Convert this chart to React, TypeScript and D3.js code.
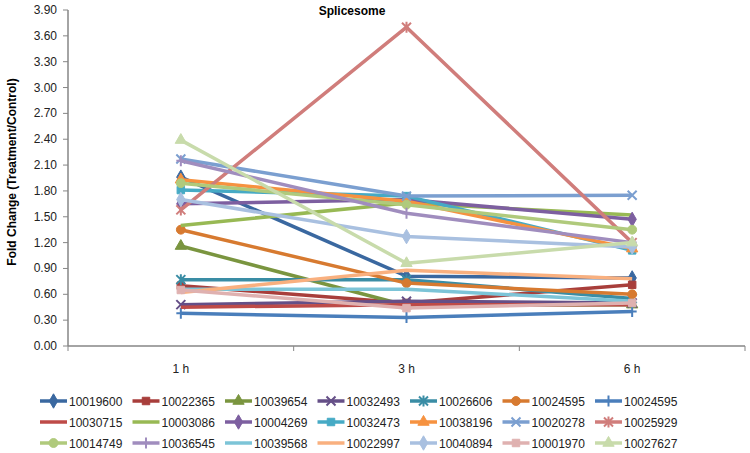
import React from "react";
import * as d3 from "d3";

const categories = ["1 h", "3 h", "6 h"];
const yTicks = [0, 0.3, 0.6, 0.9, 1.2, 1.5, 1.8, 2.1, 2.4, 2.7, 3.0, 3.3, 3.6, 3.9];

const seriesNames = [
  "10019600", "10022365", "10039654", "10032493", "10026606", "10024595", "10024595",
  "10030715", "10003086", "10004269", "10032473", "10038196", "10020278", "10025929",
  "10014749", "10036545", "10039568", "10022997", "10040894", "10001970", "10027627",
];

const seriesValues = [
  [1.96, 0.81, 0.79],
  [0.7, 0.5, 0.71],
  [1.16, 0.47, 0.48],
  [0.48, 0.52, 0.5],
  [0.77, 0.77, 0.55],
  [1.35, 0.73, 0.6],
  [0.38, 0.33, 0.4],
  [0.45, 0.48, 0.48],
  [1.4, 1.66, 1.52],
  [1.65, 1.7, 1.47],
  [1.81, 1.74, 1.11],
  [1.93, 1.68, 1.13],
  [2.17, 1.74, 1.75],
  [1.58, 3.7, 1.2],
  [1.89, 1.64, 1.35],
  [2.15, 1.54, 1.2],
  [0.66, 0.66, 0.52],
  [0.62, 0.88, 0.78],
  [1.7, 1.27, 1.15],
  [0.65, 0.44, 0.5],
  [2.39, 0.96, 1.2],
];

const seriesColors = [
  "#3a68a0", "#a83e3b", "#7a953f", "#654f87", "#3a8da5", "#d77a30", "#4a7ebb",
  "#be4b48", "#98b954", "#7d5fa0", "#46aac5", "#f69240", "#7b9fd0", "#d07d7b",
  "#b0ca7c", "#a08dbe", "#7cc4d7", "#f9b07f", "#a9c0e0", "#dfb1b0", "#c8dbab",
];

const seriesMarkers = [
  "diamond", "square", "triangle", "x", "star", "circle", "plus",
  "none", "none", "diamond", "square", "triangle", "x", "star",
  "circle", "plus", "none", "none", "diamond", "square", "triangle",
];

function Marker({ type, x, y, color }: { type: string; x: number; y: number; color: string }) {
  const t = `translate(${x},${y})`;
  if (type === "none") return null;
  if (type === "x" || type === "star" || type === "plus") {
    const r = 4.5;
    let d = "";
    if (type === "x" || type === "star") d += `M${-r},${-r}L${r},${r}M${-r},${r}L${r},${-r}`;
    if (type === "star" || type === "plus") d += `M0,${-r - 1}L0,${r + 1}`;
    if (type === "plus") d += `M${-r},0L${r},0`;
    return <path transform={t} d={d} stroke={color} strokeWidth={2} fill="none" />;
  }
  const sym =
    type === "diamond" ? d3.symbolDiamond :
    type === "square" ? d3.symbolSquare :
    type === "triangle" ? d3.symbolTriangle : d3.symbolCircle;
  const size = type === "diamond" ? 60 : type === "square" ? 56 : type === "triangle" ? 55 : 62;
  const p = d3.symbol().type(sym).size(size)()!;
  return <path transform={t} d={p} fill={color} stroke={color} strokeWidth={1} />;
}

export default function App() {
  const W = 750, H = 453;
  const left = 68, right = 745, top = 10, bottom = 346;
  const x = d3.scaleBand<string>().domain(categories).range([left, right]);
  const y = d3.scaleLinear().domain([0, 3.9]).range([bottom, top]);
  const cx = (c: string) => (x(c) as number) + x.bandwidth() / 2;
  const line = d3.line<number>().x((_, i) => cx(categories[i])).y((v) => y(v));
  const axisColor = "#868686";
  const font = "Liberation Sans, Arial, sans-serif";
  const xTickPos = [left, ...categories.map((c) => (x(c) as number) + x.bandwidth())];

  const legendX0 = 40, legendPitch = 92.5, legendRows = [401, 422, 443];

  return (
    <svg width={W} height={H} style={{ position: "absolute", left: 0, top: 0, background: "#fff" }} fontFamily={font}>
      <text x={352} y={15} textAnchor="middle" fontSize={12} fontWeight="bold" fill="#000">Splicesome</text>
      <text transform={`translate(16,172) rotate(-90)`} textAnchor="middle" fontSize={12} fontWeight="bold" fill="#000">
        Fold Change  (Treatment/Control)
      </text>
      {yTicks.map((t) => (
        <g key={t}>
          <line x1={left - 5} x2={left} y1={y(t)} y2={y(t)} stroke={axisColor} strokeWidth={1} />
          <text x={57} y={y(t) + 4} textAnchor="end" fontSize={12} fill="#222">{t.toFixed(2)}</text>
        </g>
      ))}
      <line x1={left} x2={left} y1={top} y2={bottom} stroke={axisColor} strokeWidth={1.5} />
      <line x1={left} x2={right} y1={bottom} y2={bottom} stroke={axisColor} strokeWidth={1.5} />
      {xTickPos.map((p, i) => (
        <line key={i} x1={p} x2={p} y1={bottom} y2={bottom + 5} stroke={axisColor} strokeWidth={1} />
      ))}
      {categories.map((c) => (
        <text key={c} x={cx(c)} y={373} textAnchor="middle" fontSize={12} fill="#222">{c}</text>
      ))}
      {seriesValues.map((vals, i) => (
        <g key={i}>
          <path d={line(vals)!} fill="none" stroke={seriesColors[i]} strokeWidth={3.5} strokeLinejoin="round" />
          {vals.map((v, j) => (
            <Marker key={j} type={seriesMarkers[i]} x={cx(categories[j])} y={y(v)} color={seriesColors[i]} />
          ))}
        </g>
      ))}
      {seriesNames.map((n, i) => {
        const row = Math.floor(i / 7), col = i % 7;
        const lx = legendX0 + col * legendPitch;
        const ly = legendRows[row];
        return (
          <g key={i}>
            <line x1={lx} x2={lx + 27} y1={ly} y2={ly} stroke={seriesColors[i]} strokeWidth={3.5} />
            <Marker type={seriesMarkers[i]} x={lx + 13.5} y={ly} color={seriesColors[i]} />
            <text x={lx + 29} y={ly + 4.5} fontSize={12} fill="#222">{n}</text>
          </g>
        );
      })}
    </svg>
  );
}
